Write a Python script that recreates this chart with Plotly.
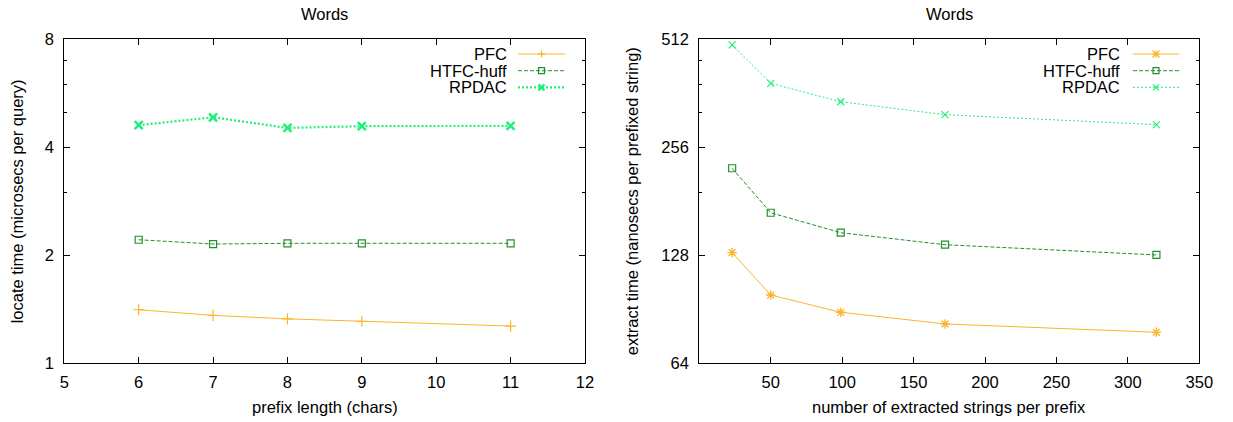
import plotly.graph_objects as go

# ---------------- data ----------------
left_x = [6, 7, 8, 9, 11]
left_pfc = [1.41, 1.36, 1.33, 1.31, 1.27]
left_htfc = [2.21, 2.15, 2.16, 2.16, 2.16]
left_rpdac = [4.61, 4.85, 4.53, 4.58, 4.59]

right_x = [23, 50, 99, 172, 320]
right_pfc = [130.2, 99.2, 88.8, 82.4, 78.1]
right_htfc = [223.8, 168.2, 148.0, 137.0, 128.3]
right_rpdac = [494, 386, 343, 315.6, 296]

series_names = ["PFC", "HTFC-huff", "RPDAC"]
left_yticks = [1, 2, 4, 8]
left_yminor = [3, 5, 6, 7]
left_xticks = [5, 6, 7, 8, 9, 10, 11, 12]
right_yticks = [64, 128, 256, 512]
right_yminor = [192, 320, 384, 448]
right_xticks = [50, 100, 150, 200, 250, 300, 350]

plot_title = "Words"
left_xtitle = "prefix length (chars)"
left_ytitle = "locate time (microsecs per query)"
right_xtitle = "number of extracted strings per prefix"
right_ytitle = "extract time (nanosecs per prefixed string)"

# ---------------- style ----------------
W, H = 1233, 422
FONT = "Liberation Sans, Arial, sans-serif"
FS = 16.5
C_PFC = "#fbb52c"
C_HTFC = "#23902a"
C_RPDAC = "#1ff07a"


def px(x):
    return x / W


def py(y):
    return 1 - y / H


LX0, LX1 = 64.3, 585.0
RX0, RX1 = 699.3, 1199.3
YT, YB = 39.3, 363.3

fig = go.Figure()

# left panel
fig.add_trace(go.Scatter(x=left_x, y=left_pfc, mode="lines+markers", name="PFC",
                         line=dict(color=C_PFC, width=1),
                         marker=dict(symbol="cross-thin-open", size=8, line=dict(color=C_PFC, width=1.2)),
                         xaxis="x", yaxis="y", showlegend=False))
fig.add_trace(go.Scatter(x=left_x, y=left_htfc, mode="lines+markers", name="HTFC-huff",
                         line=dict(color=C_HTFC, width=1, dash="4px,2px"),
                         marker=dict(symbol="square-open", size=7, line=dict(color=C_HTFC, width=1.2)),
                         xaxis="x", yaxis="y", showlegend=False))
fig.add_trace(go.Scatter(x=left_x, y=left_rpdac, mode="lines+markers", name="RPDAC",
                         line=dict(color=C_RPDAC, width=2.2, dash="2px,2px"),
                         marker=dict(symbol="x-thin-open", size=8, line=dict(color=C_RPDAC, width=2.5)),
                         xaxis="x", yaxis="y", showlegend=False))

# right panel
fig.add_trace(go.Scatter(x=right_x, y=right_pfc, mode="lines+markers", name="PFC",
                         line=dict(color=C_PFC, width=1),
                         marker=dict(symbol="asterisk-open", size=8, line=dict(color=C_PFC, width=1.3)),
                         xaxis="x2", yaxis="y2", showlegend=False))
fig.add_trace(go.Scatter(x=right_x, y=right_htfc, mode="lines+markers", name="HTFC-huff",
                         line=dict(color=C_HTFC, width=1, dash="4px,2px"),
                         marker=dict(symbol="square-open", size=7, line=dict(color=C_HTFC, width=1.2)),
                         xaxis="x2", yaxis="y2", showlegend=False))
fig.add_trace(go.Scatter(x=right_x, y=right_rpdac, mode="lines+markers", name="RPDAC",
                         line=dict(color=C_RPDAC, width=1, dash="2px,2px"),
                         marker=dict(symbol="x-thin-open", size=7, line=dict(color=C_RPDAC, width=1.2)),
                         xaxis="x2", yaxis="y2", showlegend=False))

axis_common = dict(showline=True, linecolor="black", linewidth=1.3, mirror="ticks",
                   ticks="inside", ticklen=6, tickcolor="black", tickwidth=1,
                   showgrid=False, zeroline=False, automargin=False,
                   tickfont=dict(family=FONT, size=FS, color="black"))

fig.update_layout(
    template="none",
    width=W, height=H,
    margin=dict(l=0, r=0, t=0, b=0, pad=0, autoexpand=False),
    showlegend=False,
    paper_bgcolor="white", plot_bgcolor="white",
    font=dict(family=FONT, size=FS, color="black"),
    xaxis=dict(domain=[px(LX0), px(LX1)], range=[5, 12], tickmode="array",
               tickvals=left_xticks, anchor="y", ticklabelstandoff=4, **axis_common),
    yaxis=dict(domain=[py(YB), py(YT)], type="log", range=[0, 0.90309], tickmode="array",
               tickvals=left_yticks, ticktext=[str(v) for v in left_yticks], anchor="x",
               minor=dict(tickmode="array", tickvals=left_yminor, ticks="inside", ticklen=3,
                          tickcolor="black", showgrid=False),
               ticklabelstandoff=6, **axis_common),
    xaxis2=dict(domain=[px(RX0), px(RX1)], range=[0, 350], tickmode="array",
                tickvals=right_xticks, anchor="y2", ticklabelstandoff=4, **axis_common),
    yaxis2=dict(domain=[py(YB), py(YT)], type="log", range=[1.80618, 2.70927], tickmode="array",
                tickvals=right_yticks, ticktext=[str(v) for v in right_yticks], anchor="x2",
                minor=dict(tickmode="array", tickvals=right_yminor, ticks="inside", ticklen=3,
                           tickcolor="black", showgrid=False),
                ticklabelstandoff=6, **axis_common),
)

ann = []
shapes = []


def text(x, y, s, **kw):
    d = dict(x=px(x), y=py(y), xref="paper", yref="paper", text=s, showarrow=False,
             xanchor="center", yanchor="middle",
             font=dict(family=FONT, size=FS, color="black"))
    d.update(kw)
    ann.append(d)


# titles
text((LX0 + LX1) / 2, 14, plot_title)
text((RX0 + RX1) / 2, 14, plot_title)
text((LX0 + LX1) / 2, 407, left_xtitle)
text((RX0 + RX1) / 2, 407, right_xtitle)
text(17, (YT + YB) / 2, left_ytitle, textangle=-90)
text(632, (YT + YB) / 2, right_ytitle, textangle=-90)


def line(x0, y0, x1, y1, color, width=1, dash="solid"):
    shapes.append(dict(type="line", xref="paper", yref="paper", x0=px(x0), y0=py(y0),
                       x1=px(x1), y1=py(y1), line=dict(color=color, width=width, dash=dash)))


def marker(kind, cx, cy, r, color, width):
    if kind in ("plus", "star"):
        line(cx - r, cy, cx + r, cy, color, width)
        line(cx, cy - r, cx, cy + r, color, width)
    if kind in ("x", "star"):
        line(cx - r, cy - r, cx + r, cy + r, color, width)
        line(cx - r, cy + r, cx + r, cy - r, color, width)
    if kind == "square":
        shapes.append(dict(type="rect", xref="paper", yref="paper", x0=px(cx - r), x1=px(cx + r),
                           y0=py(cy + r), y1=py(cy - r), line=dict(color=color, width=width),
                           fillcolor="rgba(0,0,0,0)"))


def legend(text_right, line_x0, line_x1, rows, specs):
    for (name, color, dash, lw, mk, mr, mw), yy in zip(specs, rows):
        text(text_right, yy, name, xanchor="right")
        line(line_x0, yy, line_x1, yy, color, lw, dash)
        marker(mk, (line_x0 + line_x1) / 2, yy, mr, color, mw)


rows = [54, 70.7, 87.3]
legend(508.5, 518, 565, rows, [
    (series_names[0], C_PFC, "solid", 1, "plus", 3.5, 1.2),
    (series_names[1], C_HTFC, "4px,2px", 1, "square", 3, 1.2),
    (series_names[2], C_RPDAC, "2px,2px", 2.2, "x", 3, 2.5),
])
legend(1122, 1133, 1179, rows, [
    (series_names[0], C_PFC, "solid", 1, "star", 3.5, 1.3),
    (series_names[1], C_HTFC, "4px,2px", 1, "square", 3, 1.2),
    (series_names[2], C_RPDAC, "2px,2px", 1, "x", 3, 1.2),
])

fig.update_layout(annotations=ann, shapes=shapes)
fig.write_html("out.html",
               config={"displayModeBar": False},
               post_script="document.body.style.margin='0';document.body.style.overflow='hidden';")
